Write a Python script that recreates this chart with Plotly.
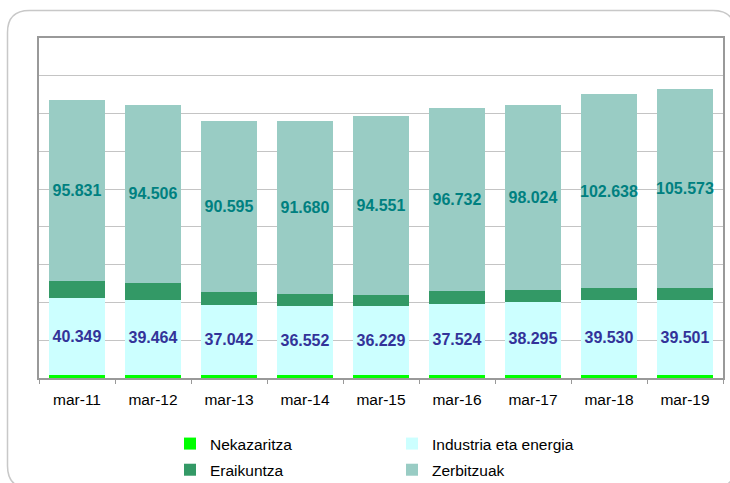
import plotly.graph_objects as go

categories = ["mar-11", "mar-12", "mar-13", "mar-14", "mar-15", "mar-16", "mar-17", "mar-18", "mar-19"]
nekazaritza = [1850, 1800, 1800, 1800, 1800, 1800, 1800, 1800, 1800]
industria = [40349, 39464, 37042, 36552, 36229, 37524, 38295, 39530, 39501]
eraikuntza = [8900, 8900, 6800, 6100, 6100, 6800, 6300, 6300, 6300]
zerbitzuak = [95831, 94506, 90595, 91680, 94551, 96732, 98024, 102638, 105573]


def fmt(v):
    return f"{v:,}".replace(",", ".")


FONT = "Liberation Sans, Arial, sans-serif"
LBL = 16

fig = go.Figure()
fig.add_trace(go.Bar(name="Nekazaritza", x=categories, y=nekazaritza,
                     legend="legend", legendgroup="a",
                     marker=dict(color="#00FF00", line=dict(width=0))))
fig.add_trace(go.Bar(name="Industria eta energia", x=categories, y=industria,
                     legend="legend2", legendgroup="b",
                     marker=dict(color="#CCFFFF", line=dict(width=0)),
                     text=[fmt(v) for v in industria], textposition="inside",
                     insidetextanchor="middle", constraintext="none", textangle=0,
                     textfont=dict(family=FONT, size=LBL, color="#333399", weight="bold")))
fig.add_trace(go.Bar(name="Eraikuntza", x=categories, y=eraikuntza,
                     legend="legend", legendgroup="c",
                     marker=dict(color="#339966", line=dict(width=0))))
fig.add_trace(go.Bar(name="Zerbitzuak", x=categories, y=zerbitzuak,
                     legend="legend2", legendgroup="d",
                     marker=dict(color="#99CCC4", line=dict(width=0)),
                     text=[fmt(v) for v in zerbitzuak], textposition="inside",
                     insidetextanchor="middle", constraintext="none", textangle=0,
                     textfont=dict(family=FONT, size=LBL, color="#008080", weight="bold")))

L, R, T, B = 39, 7, 38, 105
W, H = 730, 483
pw, ph = W - L - R, H - T - B


def px(x):
    return (x - L) / pw


def py(y):
    return (H - B - y) / ph


# outer rounded frame (decoration)
x0, y0, x1, y1, r = 7.5, 10.5, 735, 488, 22
path = (f"M {px(x0)},{py(y0 + r)} "
        f"Q {px(x0)},{py(y0)} {px(x0 + r)},{py(y0)} "
        f"L {px(x1 - r)},{py(y0)} "
        f"Q {px(x1)},{py(y0)} {px(x1)},{py(y0 + r)} "
        f"L {px(x1)},{py(y1 - r)} "
        f"Q {px(x1)},{py(y1)} {px(x1 - r)},{py(y1)} "
        f"L {px(x0 + r)},{py(y1)} "
        f"Q {px(x0)},{py(y1)} {px(x0)},{py(y1 - r)} Z")

legend_common = dict(orientation="v", traceorder="grouped", yanchor="top",
                     font=dict(family=FONT, size=15.5, color="#000000"),
                     bgcolor="rgba(0,0,0,0)", tracegroupgap=3)

fig.update_layout(
    width=W, height=H,
    barmode="stack", bargap=0.26,
    paper_bgcolor="white", plot_bgcolor="white",
    margin=dict(l=L, r=R, t=T, b=B, pad=0, autoexpand=False),
    font=dict(family=FONT, size=15.5, color="#000000"),
    shapes=[dict(type="path", xref="paper", yref="paper", path=path,
                 line=dict(color="#C8C8C8", width=1.5), layer="below")],
    xaxis=dict(showline=True, linecolor="#999999", linewidth=2, mirror=True,
               ticks="outside", tickson="boundaries", ticklen=4, tickcolor="#999999",
               ticklabelstandoff=6,
               tickfont=dict(family=FONT, size=15.5, color="#000000"), showgrid=False),
    yaxis=dict(range=[0, 180000], dtick=20000, showticklabels=False,
               showgrid=True, gridcolor="#C4C4C4", gridwidth=1,
               showline=True, linecolor="#999999", linewidth=2, mirror=True,
               zeroline=False, ticks=""),
    legend=dict(x=px(170), xanchor="left", y=py(427), **legend_common),
    legend2=dict(x=px(392), xanchor="left", y=py(427), **legend_common),
    showlegend=True,
)

fig.write_html("out.html", config={"displayModeBar": False},
               post_script="document.body.style.margin='0';")
